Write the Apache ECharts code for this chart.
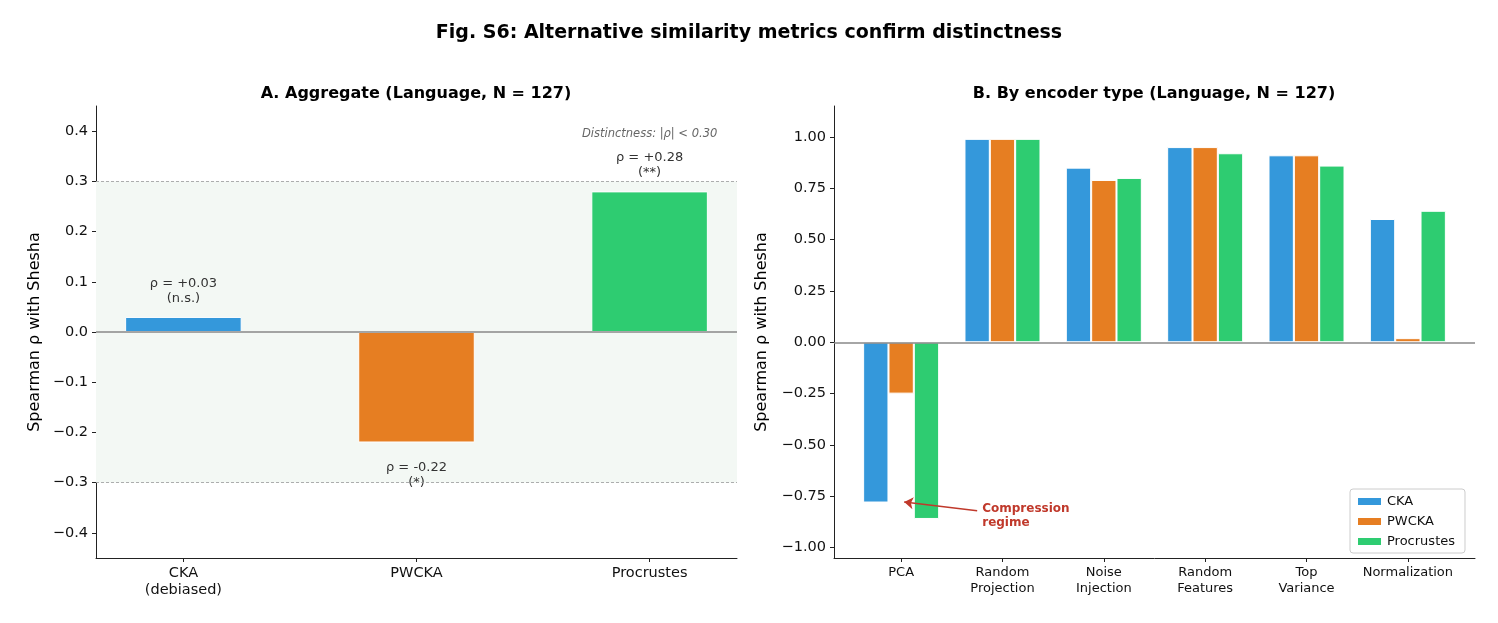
<!DOCTYPE html>
<html>
<head>
<meta charset="utf-8">
<script src="https://cdn.jsdelivr.net/npm/echarts@6/dist/echarts.min.js"></script>
<style>html,body{margin:0;padding:0;background:#fff}#c{width:1498px;height:623px}</style>
</head>
<body>
<div id="c"></div>
<script>
// ---- data ----
const aggCats = ['CKA\n(debiased)', 'PWCKA', 'Procrustes'];
const aggRho = [0.03, -0.22, 0.28];
const aggSig = ['n.s.', '*', '**'];
const encCats = ['PCA', 'Random\nProjection', 'Noise\nInjection', 'Random\nFeatures', 'Top\nVariance', 'Normalization'];
const ckaVals = [-0.78, 0.99, 0.85, 0.95, 0.91, 0.60];
const pwckaVals = [-0.25, 0.99, 0.79, 0.95, 0.91, 0.02];
const procVals = [-0.86, 0.99, 0.80, 0.92, 0.86, 0.64];
const leftTicks = [-0.4, -0.3, -0.2, -0.1, 0, 0.1, 0.2, 0.3, 0.4];
const rightTicks = [-1, -0.75, -0.5, -0.25, 0, 0.25, 0.5, 0.75, 1];
const metricNames = ['CKA', 'PWCKA', 'Procrustes'];
const metricColors = ['#3498db', '#e67e22', '#2ecc71'];

const FONT = 'DejaVu Sans';
const minus = s => s.replace('-', '\u2212');
const axisCommon = {
  axisLine: { show: true, onZero: false, lineStyle: { color: '#222', width: 1 } },
  axisTick: { show: true, inside: false, length: 4, lineStyle: { color: '#222' } },
  splitLine: { show: false }
};

const chart = echarts.init(document.getElementById('c'), null, { renderer: 'canvas' });

const aggData = aggRho.map((v, i) => ({
  value: [i, v],
  itemStyle: { color: metricColors[i] },
  label: { position: v >= 0 ? 'top' : 'bottom', distance: v >= 0 ? 11 : 18 }
}));

function encSeries(k, vals) {
  return {
    name: metricNames[k],
    type: 'bar',
    xAxisIndex: 1, yAxisIndex: 1,
    barWidth: '25%',
    barGap: '0%',
    itemStyle: { color: metricColors[k], borderColor: '#fff', borderWidth: 1 },
    data: vals.map((v, i) => [i, v])
  };
}

const s0 = encSeries(0, ckaVals);
s0.markLine = {
  silent: true, symbol: 'none', z: 5,
  label: { show: false },
  lineStyle: { color: '#888', width: 1.5, type: 'solid' },
  data: [{ yAxis: 0 }]
};
// middle series has zero bar offset, so its annotations sit at the true data coords
const s1 = encSeries(1, pwckaVals);
s1.markLine = {
  silent: true, symbol: ['none', 'arrow'], symbolSize: 9, z: 6,
  label: { show: false },
  lineStyle: { color: '#c0392b', width: 1.5, type: 'solid' },
  data: [[{ coord: [0.75, -0.82] }, { coord: [0.03, -0.778] }]]
};
s1.markPoint = {
  silent: true, symbol: 'circle', symbolSize: 0,
  label: {
    show: true, position: 'right', distance: 0,
    formatter: 'Compression\nregime',
    color: '#c0392b', fontWeight: 'bold', fontSize: 12, lineHeight: 13.5, fontFamily: FONT, align: 'left'
  },
  data: [{ coord: [0.8, -0.846] }]
};
const s2 = encSeries(2, procVals);

const option = {
  animation: false,
  backgroundColor: '#fff',
  textStyle: { fontFamily: FONT },
  title: [
    { text: 'Fig. S6: Alternative similarity metrics confirm distinctness', left: 'center', top: 19,
      textStyle: { fontSize: 19, fontWeight: 'bold', color: '#000', fontFamily: FONT } },
    { text: 'A. Aggregate (Language, N = 127)', left: 411, textAlign: 'center', top: 81,
      textStyle: { fontSize: 16, fontWeight: 'bold', color: '#000', fontFamily: FONT } },
    { text: 'B. By encoder type (Language, N = 127)', left: 1149, textAlign: 'center', top: 81,
      textStyle: { fontSize: 16, fontWeight: 'bold', color: '#000', fontFamily: FONT } }
  ],
  legend: {
    data: metricNames,
    orient: 'vertical',
    left: 1350, top: 489,
    itemWidth: 25, itemHeight: 9, itemGap: 7,
    padding: [6, 10, 5, 6],
    borderColor: '#ccc', borderWidth: 1, borderRadius: 3,
    backgroundColor: '#fff',
    textStyle: { fontSize: 13, color: '#111', fontFamily: FONT },
    icon: 'rect'
  },
  grid: [
    { left: 96, top: 106, width: 641, height: 452 },
    { left: 834, top: 106, width: 641, height: 452 }
  ],
  xAxis: [
    Object.assign({}, axisCommon, {
      type: 'value', gridIndex: 0, min: -0.375, max: 2.375,
      axisTick: Object.assign({}, axisCommon.axisTick, { customValues: [0, 1, 2] }),
      axisLabel: { customValues: [0, 1, 2], formatter: v => aggCats[Math.round(v)],
        color: '#111', fontSize: 14.5, lineHeight: 17, margin: 7, fontFamily: FONT }
    }),
    Object.assign({}, axisCommon, {
      type: 'value', gridIndex: 1, min: -0.6625, max: 5.6625,
      axisTick: Object.assign({}, axisCommon.axisTick, { customValues: [0, 1, 2, 3, 4, 5] }),
      axisLabel: { customValues: [0, 1, 2, 3, 4, 5], formatter: v => encCats[Math.round(v)],
        color: '#111', fontSize: 13, lineHeight: 16, margin: 7, fontFamily: FONT }
    })
  ],
  yAxis: [
    Object.assign({}, axisCommon, {
      type: 'value', gridIndex: 0, min: -0.45, max: 0.45,
      axisTick: Object.assign({}, axisCommon.axisTick, { customValues: leftTicks }),
      axisLabel: { customValues: leftTicks, formatter: v => minus(v.toFixed(1)),
        color: '#111', fontSize: 14.5, margin: 8, fontFamily: FONT },
      name: 'Spearman \u03c1 with Shesha', nameLocation: 'middle', nameGap: 53, nameRotate: 90,
      nameTextStyle: { fontSize: 16, color: '#000', fontFamily: FONT }
    }),
    Object.assign({}, axisCommon, {
      type: 'value', gridIndex: 1, min: -1.05, max: 1.15,
      axisTick: Object.assign({}, axisCommon.axisTick, { customValues: rightTicks }),
      axisLabel: { customValues: rightTicks, formatter: v => minus(v.toFixed(2)),
        color: '#111', fontSize: 14.5, margin: 8, fontFamily: FONT },
      name: 'Spearman \u03c1 with Shesha', nameLocation: 'middle', nameGap: 64, nameRotate: 90,
      nameTextStyle: { fontSize: 16, color: '#000', fontFamily: FONT }
    })
  ],
  series: [
    {
      type: 'bar', xAxisIndex: 0, yAxisIndex: 0,
      barWidth: '50%',
      itemStyle: { borderColor: '#fff', borderWidth: 1 },
      label: {
        show: true, color: '#333', fontSize: 13, lineHeight: 15, fontFamily: FONT, align: 'center',
        formatter: p => '\u03c1 = ' + (aggRho[p.dataIndex] >= 0 ? '+' : '') + aggRho[p.dataIndex].toFixed(2) + '\n(' + aggSig[p.dataIndex] + ')'
      },
      data: aggData,
      markArea: {
        silent: true,
        itemStyle: { color: '#f3f8f4' },
        data: [[{ yAxis: -0.3 }, { yAxis: 0.3 }]]
      },
      markLine: {
        silent: true, symbol: 'none', label: { show: false },
        data: [
          { yAxis: 0.3, lineStyle: { color: '#999', width: 0.8, type: [3, 2] } },
          { yAxis: -0.3, lineStyle: { color: '#999', width: 0.8, type: [3, 2] } },
          { yAxis: 0, lineStyle: { color: '#888', width: 1.5, type: 'solid' } }
        ]
      },
      markPoint: {
        silent: true, symbol: 'circle', symbolSize: 0,
        label: { show: true, position: 'inside', formatter: 'Distinctness: |\u03c1| < 0.30',
          fontStyle: 'italic', color: '#666', fontSize: 11.5, fontFamily: FONT },
        data: [{ coord: [2, 0.395] }]
      }
    },
    s0,
    s1,
    s2
  ]
};
chart.setOption(option);
</script>
</body>
</html>
